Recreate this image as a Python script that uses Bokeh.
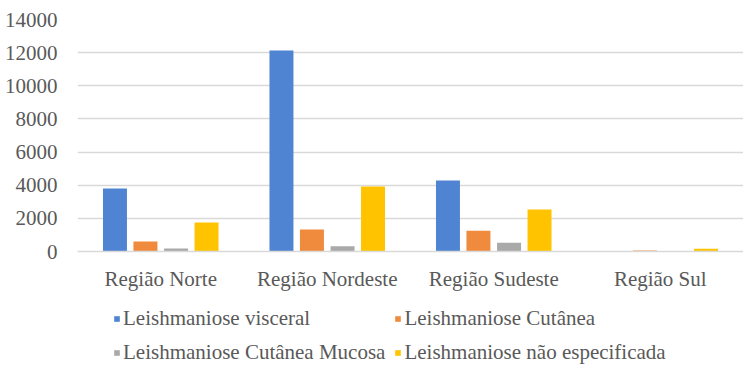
from bokeh.plotting import figure
from bokeh.layouts import column
from bokeh.models import FactorRange, Legend, LegendItem, ColumnDataSource, FixedTicker, Range1d
from bokeh.transform import dodge
from bokeh.embed import file_html
from bokeh.resources import INLINE

regions = ["Região Norte", "Região Nordeste", "Região Sudeste", "Região Sul"]
visceral = [3800, 12130, 4280, 5]
cutanea = [600, 1330, 1250, 60]
mucosa = [180, 320, 525, 8]
nao_especificada = [1750, 3920, 2530, 170]
series_labels = ["Leishmaniose visceral", "Leishmaniose Cutânea",
                 "Leishmaniose Cutânea Mucosa", "Leishmaniose não especificada"]
y_ticks = [0, 2000, 4000, 6000, 8000, 10000, 12000, 14000]

colors = ["#4e84d2", "#f08a3c", "#a9a9a9", "#ffc300"]
FONT = "Liberation Serif"
FS = "21px"

src = ColumnDataSource(dict(region=regions, v=visceral, c=cutanea,
                            m=mucosa, n=nao_especificada))

xr = FactorRange(*regions, range_padding=0)
p = figure(x_range=xr, y_range=(0, 14000),
           width=743, height=293, output_backend="svg", toolbar_location=None,
           min_border_left=77, min_border_right=0, min_border_top=19,
           min_border_bottom=42)

offsets = [-0.275, -0.092, 0.092, 0.275]
fields = ["v", "c", "m", "n"]
for f, off, col in zip(fields, offsets, colors):
    p.vbar(x=dodge("region", off, range=xr), top=f, width=0.144,
           source=src, fill_color=col, line_color=None)

p.outline_line_color = None
p.xgrid.grid_line_color = None
p.ygrid.grid_line_color = "#d9d9d9"
p.ygrid.grid_line_width = 1.5
p.yaxis.ticker = FixedTicker(ticks=y_ticks)
p.yaxis.axis_line_color = None
p.yaxis.major_tick_line_color = None
p.yaxis.minor_tick_line_color = None
p.yaxis.major_label_text_font = FONT
p.yaxis.major_label_text_font_size = FS
p.yaxis.major_label_text_color = "#595959"
p.yaxis.major_label_standoff = 14

p.xaxis.axis_line_color = "#d9d9d9"
p.xaxis.axis_line_width = 1.5
p.xaxis.major_tick_line_color = None
p.xaxis.minor_tick_line_color = None
p.xaxis.major_label_text_font = FONT
p.xaxis.major_label_text_font_size = FS
p.xaxis.major_label_text_color = "#595959"
p.xaxis.major_label_standoff = 9

# legend panel: hidden copies of the series, only their legend entries show
p2 = figure(width=743, height=72, x_range=xr, y_range=Range1d(-2, -1),
            output_backend="svg", toolbar_location=None, min_border=0,
            x_axis_location=None, y_axis_location=None)
p2.grid.grid_line_color = None
p2.outline_line_color = None
legend_renderers = []
for f, off, col in zip(fields, offsets, colors):
    r = p2.vbar(x=dodge("region", off, range=xr), top=f, width=0.144,
                source=src, fill_color=col, line_color=None)
    r.visible = False
    legend_renderers.append(r)
items = [LegendItem(label=lab, renderers=[r]) for lab, r in zip(series_labels, legend_renderers)]
legend = Legend(items=items, orientation="horizontal", ncols=2,
                location=(36, 0), padding=0, margin=0, spacing=9,
                label_height=24, glyph_width=7, glyph_height=7,
                label_standoff=3, border_line_color=None,
                background_fill_alpha=0, inactive_fill_alpha=0,
                label_text_font=FONT, label_text_font_size=FS,
                label_text_color="#595959")
p2.add_layout(legend, "center")

layout = column(p, p2, spacing=0)
open("out.html", "w").write(file_html(layout, INLINE))
